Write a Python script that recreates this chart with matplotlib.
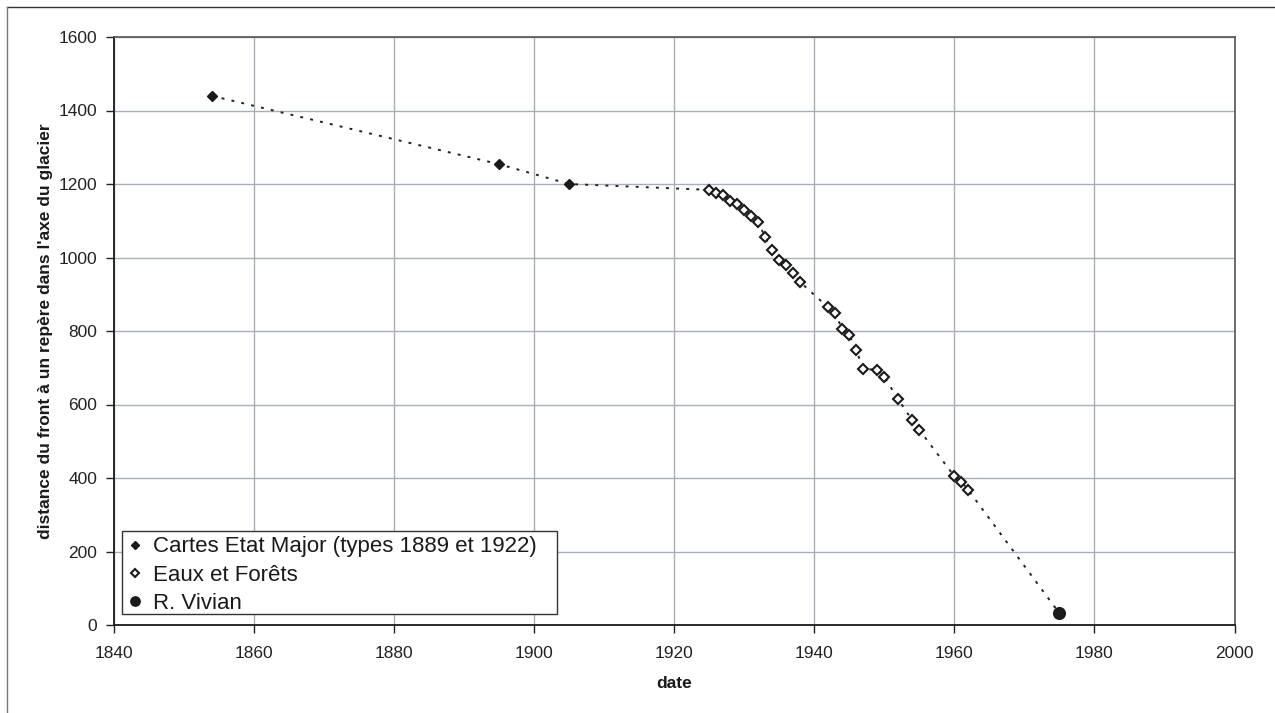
import matplotlib
matplotlib.use("Agg")
import matplotlib.pyplot as plt
from matplotlib.lines import Line2D
from matplotlib.patches import Rectangle

plt.rcParams['font.family'] = ['Liberation Sans', 'DejaVu Sans']

# --- data ---
cartes_years = [1854, 1895, 1905]
cartes_vals = [1440, 1254, 1200]

eaux_years = [1925, 1926, 1927, 1928, 1929, 1930, 1931, 1932, 1933, 1934,
              1935, 1936, 1937, 1938, 1942, 1943, 1944, 1945, 1946, 1947,
              1949, 1950, 1952, 1954, 1955, 1960, 1961, 1962]
eaux_vals = [1184, 1176, 1170, 1155, 1145, 1130, 1113, 1097, 1055, 1020,
             993, 980, 957, 933, 864, 848, 805, 789, 749, 696,
             695, 675, 614, 557, 531, 405, 390, 367]

vivian_years = [1975]
vivian_vals = [32]

labels = ["Cartes Etat Major (types 1889 et 1922)", "Eaux et Forêts", "R. Vivian"]
xlabel = "date"
ylabel = "distance du front à un repère dans l'axe du glacier"
xticks = list(range(1840, 2001, 20))
yticks = list(range(0, 1601, 200))

W, H = 1275, 713
fig = plt.figure(figsize=(W/100, H/100), dpi=100)
ax_l, ax_r, ax_t, ax_b = 113.7, 1234.5, 37.0, 625.0
ax = fig.add_axes([ax_l/W, 1-ax_b/H, (ax_r-ax_l)/W, (ax_b-ax_t)/H])

# connecting dotted line through all points
all_x = cartes_years + eaux_years + vivian_years
all_y = cartes_vals + eaux_vals + vivian_vals
ax.plot(all_x, all_y, color='#222222', lw=1.4, linestyle=(0, (1.5, 3.7)), zorder=2)

ax.plot(cartes_years, cartes_vals, linestyle='none', marker='D', ms=5.3,
        color='#1a1a1a', mec='#1a1a1a', zorder=3, label=labels[0])
ax.plot(eaux_years, eaux_vals, linestyle='none', marker='D', ms=5.5,
        mfc='white', mec='#1a1a1a', mew=1.5, zorder=3, label=labels[1])
ax.plot(vivian_years, vivian_vals, linestyle='none', marker='o', ms=8.4,
        color='#1a1a1a', zorder=3, label=labels[2])

ax.set_xlim(1840, 2000)
ax.set_ylim(0, 1600)
ax.set_xticks(xticks)
ax.set_yticks(yticks)
ax.grid(True, color='#a7aeb8', lw=1.0)
ax.set_axisbelow(True)
ax.tick_params(direction='out', length=6, width=1, labelsize=12.5,
               colors='#222222')
ax.tick_params(axis='x', pad=9)
ax.tick_params(axis='y', pad=6)

for s in ['left', 'bottom']:
    ax.spines[s].set_color('#1a1a1a')
    ax.spines[s].set_linewidth(1.3)
for s in ['top', 'right']:
    ax.spines[s].set_color('#555555')
    ax.spines[s].set_linewidth(1.2)

ax.set_xlabel(xlabel, fontsize=12.5, fontweight='bold', color='#1a1a1a', labelpad=11)
ax.set_ylabel(ylabel, fontsize=12.5, fontweight='bold', color='#1a1a1a', labelpad=4)

# legend (frame drawn separately to match wider right padding)
def ax_x(px):
    return (px - ax_l) / (ax_r - ax_l)

def ax_y(py):
    return (ax_b - py) / (ax_b - ax_t)

leg = ax.legend(loc='lower left', bbox_to_anchor=(ax_x(122), ax_y(619.5)), borderaxespad=0,
                fontsize=16, frameon=False, handlelength=0.7,
                handletextpad=0.45, labelspacing=0.33, borderpad=0.25,
                markerscale=0.8)
for t in leg.get_texts():
    t.set_color('#1a1a1a')
ax.add_patch(Rectangle((ax_x(122), ax_y(614)), ax_x(556.7) - ax_x(122), ax_y(531) - ax_y(614),
                       transform=ax.transAxes, facecolor='white', edgecolor='#333333',
                       lw=1.0, zorder=4))
leg.set_zorder(5)

# outer chart-area frame (top & left visible)
fig.add_artist(Line2D([7/W, 1.0], [1-7/H, 1-7/H], transform=fig.transFigure,
                      color='#333333', lw=1.0))
fig.add_artist(Line2D([7/W, 7/W], [1-7/H, 0.0], transform=fig.transFigure,
                      color='#777777', lw=1.0))

fig.savefig("out.png", dpi=100)
